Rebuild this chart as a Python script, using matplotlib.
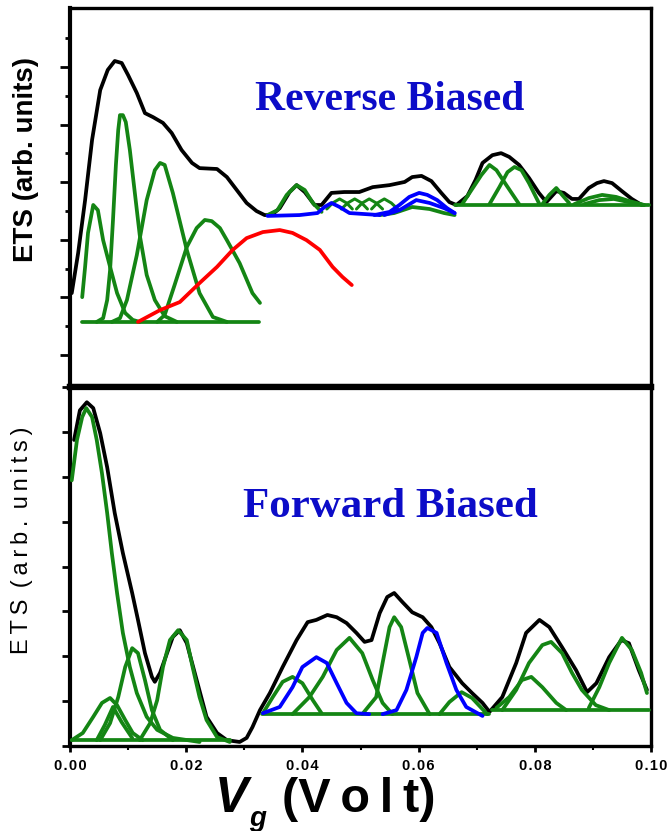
import matplotlib
matplotlib.use("Agg")
import matplotlib.pyplot as plt
from matplotlib.ticker import FixedLocator

# ---- reverse biased (upper panel) ----
rev_black_x = [0.0003, 0.0014, 0.0026, 0.0038, 0.0052, 0.0065, 0.0077, 0.0089, 0.0100, 0.0115,
               0.0129, 0.0143, 0.0160, 0.0175, 0.0192, 0.0210, 0.0223, 0.0253, 0.0270, 0.0287,
               0.0304, 0.0321, 0.0335, 0.0347, 0.0361, 0.0378, 0.0390, 0.0404, 0.0421, 0.0433,
               0.0450, 0.0472, 0.0498, 0.0521, 0.0550, 0.0576, 0.0589, 0.0605, 0.0622, 0.0639,
               0.0653, 0.0665, 0.0684, 0.0698, 0.0710, 0.0727, 0.0742, 0.0756, 0.0773, 0.0790,
               0.0807, 0.0820, 0.0837, 0.0850, 0.0864, 0.0876, 0.0893, 0.0907, 0.0919, 0.0933,
               0.0950, 0.0967, 0.0984]
rev_black_y = [3.15, 4.54, 6.38, 8.47, 10.20, 10.90, 11.21, 11.14, 10.72, 10.10,
               9.40, 9.26, 9.06, 8.71, 8.12, 7.67, 7.49, 7.46, 7.18, 6.73,
               6.28, 6.00, 5.86, 5.86, 6.10, 6.66, 6.90, 6.66, 6.21, 6.21,
               6.63, 6.66, 6.66, 6.83, 6.90, 7.01, 7.18, 7.22, 7.04, 6.63,
               6.31, 6.21, 6.52, 7.08, 7.67, 7.94, 8.01, 7.88, 7.60, 7.15,
               6.63, 6.31, 6.69, 6.63, 6.42, 6.42, 6.80, 6.97, 7.04, 6.97,
               6.69, 6.42, 6.21]

rev_base_left_x = [0.0021, 0.0326]
rev_base_left_y = [2.15, 2.15]
rev_g1_x = [0.0021, 0.0026, 0.0031, 0.0040, 0.0048, 0.0057, 0.0069, 0.0081, 0.0095, 0.0108, 0.0120]
rev_g1_y = [3.01, 4.06, 5.24, 6.21, 6.03, 4.99, 4.06, 3.15, 2.46, 2.22, 2.15]
rev_g2_x = [0.0046, 0.0057, 0.0064, 0.0069, 0.0074, 0.0079, 0.0083, 0.0086, 0.0091, 0.0096,
            0.0103, 0.0112, 0.0120, 0.0132, 0.0146, 0.0163, 0.0184]
rev_g2_y = [2.15, 2.28, 2.91, 3.95, 5.69, 7.60, 8.81, 9.33, 9.33, 9.09,
            8.12, 6.56, 5.17, 3.78, 2.91, 2.35, 2.15]
rev_g3_x = [0.0072, 0.0086, 0.0098, 0.0115, 0.0132, 0.0146, 0.0155, 0.0163, 0.0177, 0.0201,
            0.0223, 0.0246, 0.0270]
rev_g3_y = [2.15, 2.28, 2.91, 4.47, 6.38, 7.42, 7.67, 7.60, 6.63, 4.65, 3.15, 2.32, 2.15]
rev_g4_x = [0.0150, 0.0163, 0.0180, 0.0201, 0.0218, 0.0232, 0.0244, 0.0258, 0.0270, 0.0292, 0.0314, 0.0327]
rev_g4_y = [2.15, 2.39, 3.43, 4.75, 5.41, 5.69, 5.65, 5.41, 4.99, 4.19, 3.15, 2.81]
rev_red_x = [0.0117, 0.0155, 0.0189, 0.0223, 0.0253, 0.0280, 0.0304, 0.0332, 0.0361, 0.0383,
             0.0407, 0.0430, 0.0452, 0.0469, 0.0485]
rev_red_y = [2.15, 2.56, 2.84, 3.50, 4.06, 4.65, 5.06, 5.27, 5.34, 5.24,
             4.99, 4.65, 4.06, 3.71, 3.43]

rev_g5_x = [0.0340, 0.0357, 0.0373, 0.0390, 0.0404, 0.0418, 0.0433]
rev_g5_y = [5.86, 6.03, 6.56, 6.90, 6.73, 6.28, 5.97]
rev_b1_x = [0.0340, 0.0395, 0.0426, 0.0438, 0.0450, 0.0464, 0.0481, 0.0533]
rev_b1_y = [5.83, 5.86, 5.93, 6.14, 6.28, 6.14, 5.93, 5.86]
rev_small_x = [[0.0442, 0.0452, 0.0464, 0.0476, 0.0486],
               [0.0467, 0.0478, 0.0490, 0.0502, 0.0512],
               [0.0493, 0.0503, 0.0515, 0.0527, 0.0538],
               [0.0519, 0.0529, 0.0541, 0.0553, 0.0564]]
rev_small_y = [6.07, 6.28, 6.42, 6.28, 6.07]
rev_g6_x = [0.0533, 0.0558, 0.0589, 0.0619, 0.0644, 0.0662]
rev_g6_y = [5.86, 5.93, 6.14, 6.07, 5.93, 5.86]
rev_b2_x = [0.0524, 0.0550, 0.0567, 0.0584, 0.0601, 0.0615, 0.0632, 0.0649, 0.0662]
rev_b2_y = [5.86, 5.97, 6.21, 6.49, 6.63, 6.56, 6.38, 6.10, 5.93]
rev_b3_x = [0.0541, 0.0567, 0.0596, 0.0619, 0.0644, 0.0662]
rev_b3_y = [5.86, 6.03, 6.38, 6.28, 6.10, 5.93]

rev_base_right_x = [0.0662, 0.0997]
rev_base_right_y = [6.21, 6.21]
rev_g7_x = [0.0675, 0.0691, 0.0708, 0.0722, 0.0734, 0.0751, 0.0773]
rev_g7_y = [6.24, 6.73, 7.25, 7.60, 7.42, 6.90, 6.24]
rev_g8_x = [0.0722, 0.0739, 0.0753, 0.0765, 0.0777, 0.0790, 0.0808]
rev_g8_y = [6.24, 6.83, 7.35, 7.53, 7.42, 6.97, 6.24]
rev_g9_x = [0.0813, 0.0825, 0.0837, 0.0847, 0.0859]
rev_g9_y = [6.24, 6.56, 6.80, 6.56, 6.28]
rev_g10_x = [0.0868, 0.0893, 0.0916, 0.0940, 0.0962, 0.0988]
rev_g10_y = [6.24, 6.45, 6.56, 6.49, 6.35, 6.21]
rev_g11_x = [0.0885, 0.0911, 0.0936, 0.0962, 0.0988]
rev_g11_y = [6.24, 6.38, 6.42, 6.31, 6.21]

# ---- forward biased (lower panel) ----
fwd_black_x = [0.0007, 0.0017, 0.0029, 0.0040, 0.0052, 0.0064, 0.0077, 0.0091, 0.0107, 0.0117,
               0.0129, 0.0141, 0.0146, 0.0155, 0.0167, 0.0177, 0.0189, 0.0201, 0.0218, 0.0235,
               0.0253, 0.0270, 0.0292, 0.0304, 0.0314, 0.0327, 0.0344, 0.0366, 0.0390, 0.0409,
               0.0424, 0.0443, 0.0459, 0.0476, 0.0493, 0.0507, 0.0519, 0.0533, 0.0546, 0.0558,
               0.0572, 0.0589, 0.0607, 0.0622, 0.0636, 0.0653, 0.0675, 0.0692, 0.0710, 0.0722,
               0.0744, 0.0768, 0.0785, 0.0808, 0.0825, 0.0847, 0.0871, 0.0890, 0.0906, 0.0928,
               0.0949, 0.0962, 0.0979, 0.0993]
fwd_black_y = [6.82, 7.48, 7.66, 7.53, 6.97, 6.21, 5.19, 4.30, 3.41, 2.81,
               2.07, 1.54, 1.43, 1.63, 2.07, 2.43, 2.58, 2.29, 1.47, 0.65,
               0.29, 0.13, 0.09, 0.18, 0.42, 0.80, 1.18, 1.76, 2.36, 2.76,
               2.81, 2.92, 2.87, 2.74, 2.52, 2.32, 2.36, 2.96, 3.32, 3.41,
               3.21, 2.98, 2.87, 2.65, 2.29, 1.76, 1.40, 1.18, 0.96, 0.76,
               1.09, 1.85, 2.52, 2.81, 2.65, 2.20, 1.69, 1.20, 1.40, 1.98,
               2.36, 2.29, 1.69, 1.25]

fwd_base_left_x = [0.0003, 0.0275]
fwd_base_left_y = [0.13, 0.13]
fwd_g1_x = [0.0003, 0.0012, 0.0021, 0.0028, 0.0038, 0.0046, 0.0055, 0.0064, 0.0072, 0.0081,
            0.0091, 0.0103, 0.0115, 0.0132, 0.0150, 0.0177, 0.0223]
fwd_g1_y = [5.92, 6.82, 7.33, 7.53, 7.33, 6.82, 6.08, 5.19, 4.30, 3.41,
            2.52, 1.76, 1.18, 0.65, 0.36, 0.18, 0.09]
fwd_g2_x = [0.0003, 0.0022, 0.0040, 0.0055, 0.0069, 0.0081, 0.0095, 0.0108, 0.0125]
fwd_g2_y = [0.13, 0.29, 0.65, 0.96, 1.07, 0.91, 0.58, 0.29, 0.13]
fwd_g3_x = [0.0046, 0.0060, 0.0074, 0.0089, 0.0107]
fwd_g3_y = [0.13, 0.47, 0.87, 0.53, 0.18]
fwd_g4_x = [0.0052, 0.0069, 0.0083, 0.0095, 0.0107, 0.0117, 0.0129, 0.0141, 0.0155, 0.0177]
fwd_g4_y = [0.13, 0.51, 1.09, 1.76, 2.18, 2.07, 1.47, 0.80, 0.36, 0.13]
fwd_g5_x = [0.0120, 0.0138, 0.0150, 0.0160, 0.0172, 0.0186, 0.0201, 0.0211, 0.0223, 0.0235, 0.0253, 0.0275]
fwd_g5_y = [0.13, 0.51, 1.02, 1.76, 2.36, 2.58, 2.36, 1.76, 1.09, 0.58, 0.20, 0.09]

fwd_base_mid_x = [0.0330, 0.0722]
fwd_base_mid_y = [0.71, 0.71]
fwd_g6_x = [0.0332, 0.0349, 0.0366, 0.0383, 0.0400, 0.0418, 0.0433]
fwd_g6_y = [0.73, 1.09, 1.43, 1.54, 1.40, 1.02, 0.73]
fwd_b1_x = [0.0332, 0.0361, 0.0383, 0.0400, 0.0424, 0.0442, 0.0459, 0.0476, 0.0493, 0.0515]
fwd_b1_y = [0.73, 0.87, 1.31, 1.76, 1.98, 1.85, 1.40, 0.96, 0.73, 0.71]
fwd_g7_x = [0.0383, 0.0412, 0.0435, 0.0459, 0.0481, 0.0503, 0.0521, 0.0538, 0.0555]
fwd_g7_y = [0.71, 1.09, 1.54, 2.14, 2.41, 2.07, 1.47, 0.96, 0.71]
fwd_g8_x = [0.0503, 0.0527, 0.0538, 0.0550, 0.0558, 0.0570, 0.0584, 0.0598, 0.0619]
fwd_g8_y = [0.71, 1.09, 1.85, 2.65, 2.87, 2.65, 1.92, 1.18, 0.71]
fwd_b2_x = [0.0538, 0.0562, 0.0579, 0.0596, 0.0607, 0.0615, 0.0631, 0.0648, 0.0665, 0.0682, 0.0710]
fwd_b2_y = [0.71, 0.80, 1.25, 1.98, 2.52, 2.63, 2.52, 1.85, 1.25, 0.87, 0.67]
fwd_g9_x = [0.0636, 0.0653, 0.0674, 0.0692, 0.0718]
fwd_g9_y = [0.71, 0.98, 1.20, 1.07, 0.71]

fwd_base_right_x = [0.0727, 0.0997]
fwd_base_right_y = [0.80, 0.80]
fwd_g10_x = [0.0734, 0.0756, 0.0778, 0.0794, 0.0813, 0.0837, 0.0854]
fwd_g10_y = [0.85, 1.09, 1.47, 1.54, 1.31, 0.96, 0.80]
fwd_g11_x = [0.0744, 0.0768, 0.0790, 0.0813, 0.0828, 0.0847, 0.0864, 0.0881, 0.0905, 0.0928]
fwd_g11_y = [0.80, 1.25, 1.85, 2.25, 2.32, 2.07, 1.63, 1.25, 0.91, 0.80]
fwd_g12_x = [0.0893, 0.0911, 0.0928, 0.0950, 0.0967, 0.0983, 0.0993]
fwd_g12_y = [0.85, 1.31, 1.85, 2.41, 2.14, 1.63, 1.18]

xticks_major = [0.00, 0.02, 0.04, 0.06, 0.08, 0.10]
xtick_labels = ["0.00", "0.02", "0.04", "0.06", "0.08", "0.10"]
xticks_minor = [0.01, 0.03, 0.05, 0.07, 0.09]

GREEN = "#148514"
BLUE = "#0000ff"
RED = "#ff0000"
LW = 2.7
kw = dict(solid_joinstyle="round", solid_capstyle="round")

fig = plt.figure(figsize=(6.68, 8.31), dpi=100)
ax1 = fig.add_axes([70 / 668, 1 - 387 / 831, 581 / 668, 379 / 831])
ax2 = fig.add_axes([70 / 668, 1 - 746 / 831, 581 / 668, 359 / 831])

# upper panel
ax1.plot(rev_black_x, rev_black_y, color="black", lw=LW, zorder=2, **kw)
for xs, ys in [(rev_base_left_x, rev_base_left_y), (rev_g1_x, rev_g1_y), (rev_g2_x, rev_g2_y),
               (rev_g3_x, rev_g3_y), (rev_g4_x, rev_g4_y), (rev_g5_x, rev_g5_y),
               (rev_g6_x, rev_g6_y), (rev_base_right_x, rev_base_right_y), (rev_g7_x, rev_g7_y),
               (rev_g8_x, rev_g8_y), (rev_g9_x, rev_g9_y), (rev_g10_x, rev_g10_y),
               (rev_g11_x, rev_g11_y)]:
    ax1.plot(xs, ys, color=GREEN, lw=LW, zorder=3, **kw)
for xs in rev_small_x:
    ax1.plot(xs, rev_small_y, color=GREEN, lw=LW * 0.8, zorder=3, **kw)
for xs, ys in [(rev_b1_x, rev_b1_y), (rev_b2_x, rev_b2_y), (rev_b3_x, rev_b3_y)]:
    ax1.plot(xs, ys, color=BLUE, lw=LW, zorder=4, **kw)
ax1.plot(rev_red_x, rev_red_y, color=RED, lw=LW, zorder=4, **kw)

# lower panel
ax2.plot(fwd_black_x, fwd_black_y, color="black", lw=LW, zorder=2, **kw)
for xs, ys in [(fwd_base_left_x, fwd_base_left_y), (fwd_g1_x, fwd_g1_y), (fwd_g2_x, fwd_g2_y),
               (fwd_g3_x, fwd_g3_y), (fwd_g4_x, fwd_g4_y), (fwd_g5_x, fwd_g5_y),
               (fwd_base_mid_x, fwd_base_mid_y), (fwd_g6_x, fwd_g6_y), (fwd_g7_x, fwd_g7_y),
               (fwd_g8_x, fwd_g8_y), (fwd_g9_x, fwd_g9_y), (fwd_base_right_x, fwd_base_right_y),
               (fwd_g10_x, fwd_g10_y), (fwd_g11_x, fwd_g11_y), (fwd_g12_x, fwd_g12_y)]:
    ax2.plot(xs, ys, color=GREEN, lw=LW, zorder=3, **kw)
for xs, ys in [(fwd_b1_x, fwd_b1_y), (fwd_b2_x, fwd_b2_y)]:
    ax2.plot(xs, ys, color=BLUE, lw=LW, zorder=4, **kw)

for ax in (ax1, ax2):
    ax.set_xlim(0, 0.1)
    for s in ax.spines.values():
        s.set_linewidth(2.4)
    ax.spines["left"].set_linewidth(3)

ax1.set_ylim(-0.11, 13.05)
ax1.yaxis.set_major_locator(FixedLocator([1, 3, 5, 7, 9, 11]))
ax1.yaxis.set_minor_locator(FixedLocator([2, 4, 6, 8, 10, 12]))
ax1.tick_params(axis="y", which="major", direction="out", length=7, width=2, labelleft=False)
ax1.tick_params(axis="y", which="minor", direction="out", length=3.5, width=2)
ax1.set_xticks([])
ax1.spines["bottom"].set_linewidth(4.5)

ax2.set_ylim(0, 8)
ax2.yaxis.set_major_locator(FixedLocator([0, 1, 2, 3, 4, 5, 6, 7, 8]))
ax2.tick_params(axis="y", direction="out", length=5.5, width=2, labelleft=False)
ax2.spines["top"].set_linewidth(4.5)
ax2.set_xticks(xticks_major)
ax2.set_xticklabels(["\u200a".join(t) for t in xtick_labels],
                    family=["Liberation Sans", "DejaVu Sans"], fontweight="bold", fontsize=10.5)
ax2.xaxis.set_minor_locator(FixedLocator(xticks_minor))
ax2.tick_params(axis="x", which="major", direction="out", length=4, width=2, pad=5)
ax2.tick_params(axis="x", which="minor", direction="out", length=3, width=1.5)

# panel titles
fig.text(390 / 668, 1 - 100 / 831, "Reverse Biased", color="#0c0cc8", fontsize=30,
         fontfamily="Liberation Serif", fontweight="bold", ha="center", va="center")
fig.text(390 / 668, 1 - 507 / 831, "Forward Biased", color="#0c0cc8", fontsize=31,
         fontfamily="Liberation Serif", fontweight="bold", ha="center", va="center")

# y labels
fig.text(26 / 668, 1 - 160 / 831, "ETS (arb. units)", rotation=90, fontsize=20,
         fontfamily="Liberation Sans", fontweight="bold", ha="center", va="center")
fig.text(22 / 668, 1 - 540 / 831, "E\u2009T\u2009S\u2009 (\u2009a\u2009r\u2009b\u2009.\u2009 u\u2009n\u2009i\u2009t\u2009s\u2009)",
         rotation=90, fontsize=17, family=["Liberation Sans", "DejaVu Sans"],
         ha="center", va="center")

# x label
fig.text(232 / 668, 1 - 812 / 831, "V", fontsize=36, fontfamily="Liberation Sans",
         fontweight="bold", fontstyle="italic", ha="center", va="baseline")
fig.text(258 / 668, 1 - 826 / 831, "g", fontsize=20, fontfamily="Liberation Sans",
         fontweight="bold", fontstyle="italic", ha="center", va="baseline")
fig.text(282 / 668, 1 - 812 / 831, "(V\u2009o\u2009l\u2009t)", fontsize=35,
         family=["Liberation Sans", "DejaVu Sans"], fontweight="bold", ha="left", va="baseline")

fig.savefig("out.png", dpi=100)
